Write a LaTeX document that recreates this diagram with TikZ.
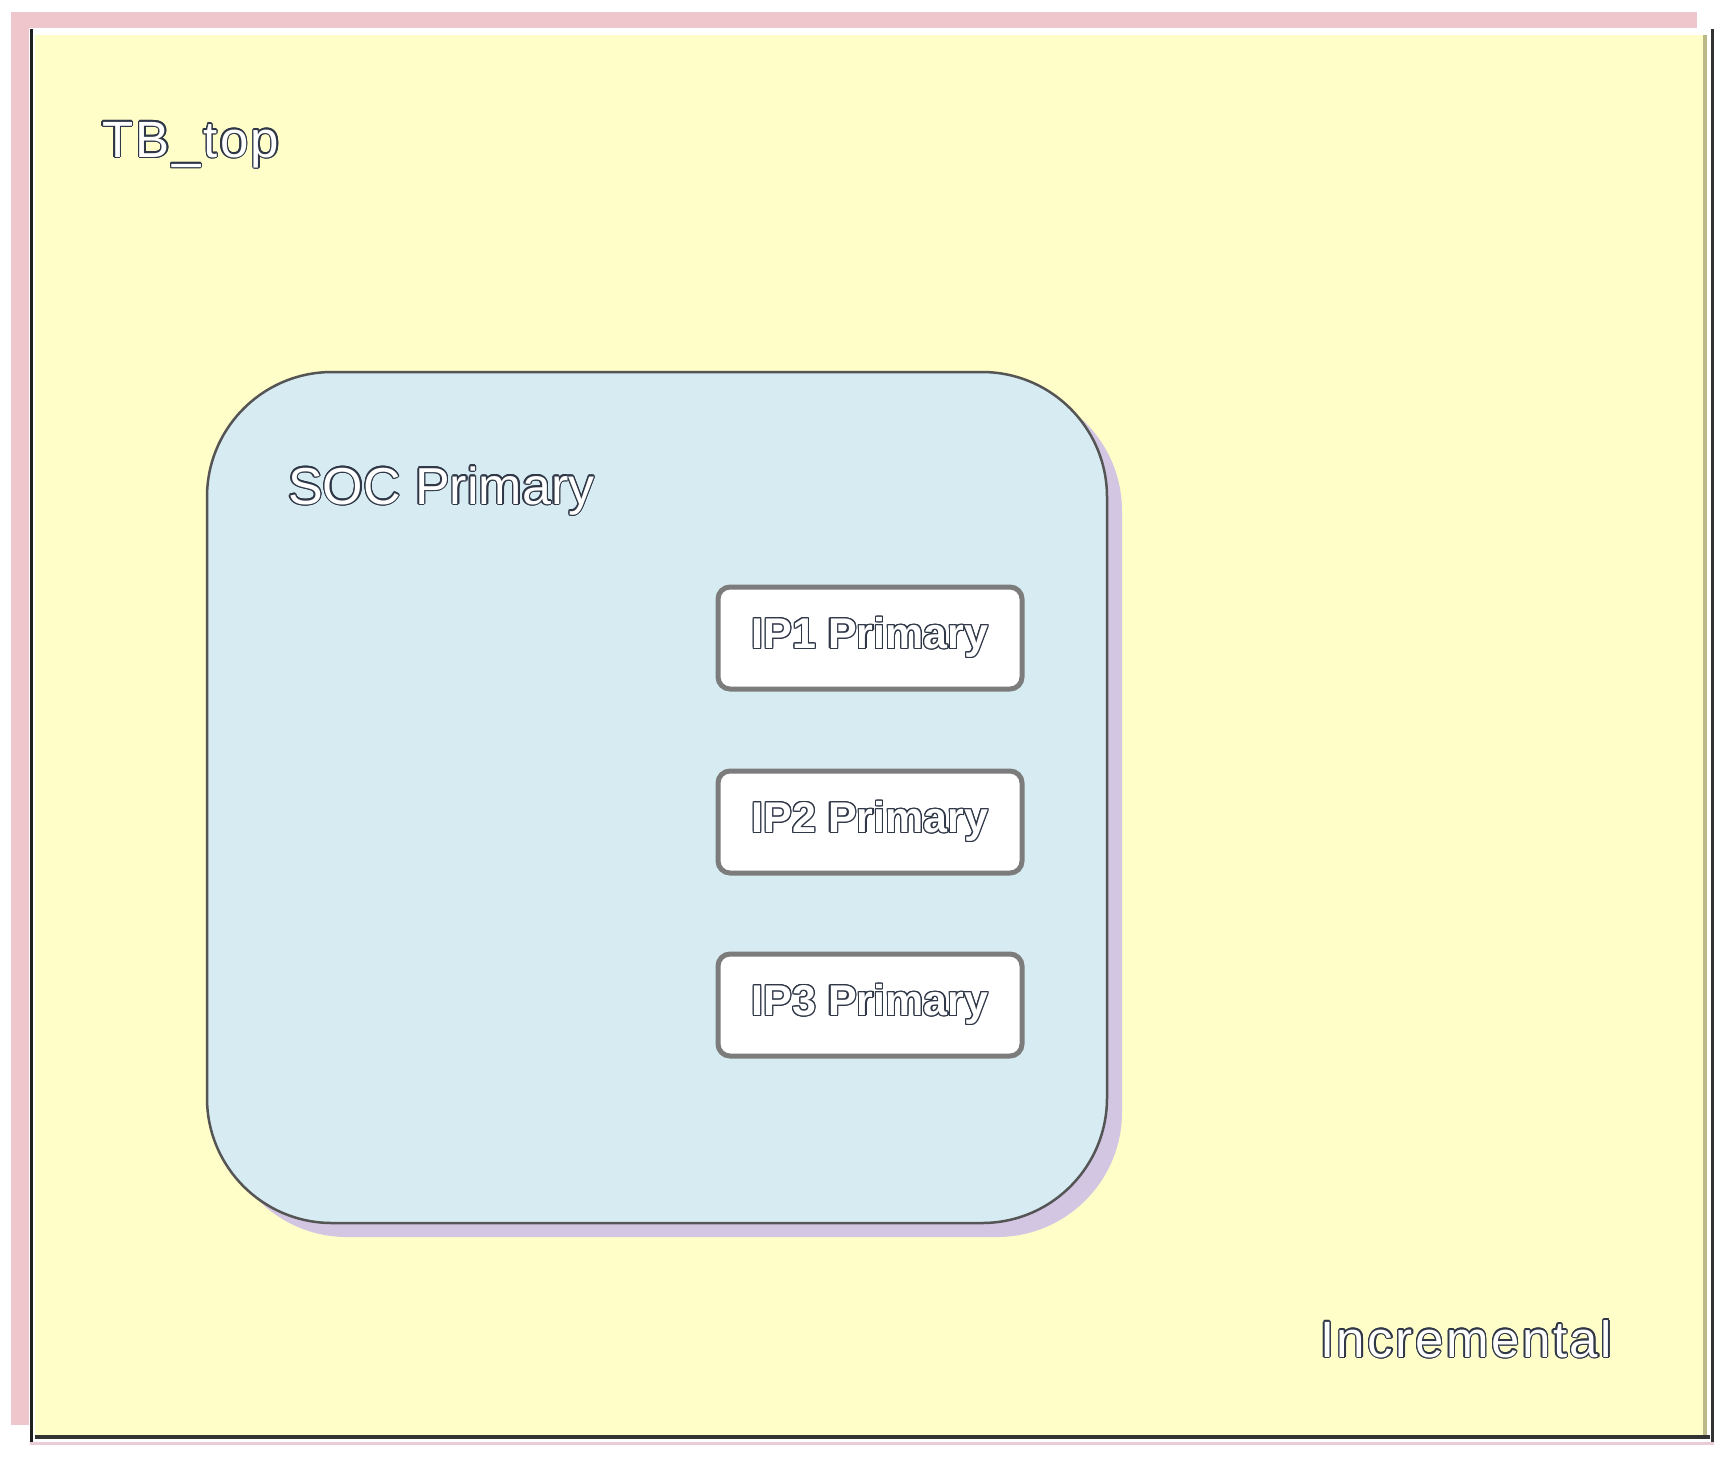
\documentclass[tikz,border=0pt]{standalone}
\usepackage{fontspec}
\setmainfont{Liberation Sans}
\newfontfamily\spacedfont[LetterSpace=5]{Liberation Sans}
\usepackage[copies]{contour}
\contourlength{1.3pt}
\usetikzlibrary{shadows}
\definecolor{pinkstrip}{HTML}{EEC6CC}
\definecolor{paper}{HTML}{FFFDC8}
\definecolor{socfill}{HTML}{D6ECF2}
\definecolor{socshadow}{HTML}{D2C6E2}
\definecolor{edgegray}{HTML}{555555}
\definecolor{ipedge}{HTML}{7C7C7C}
\definecolor{txtedge}{HTML}{303848}
\newcommand{\outl}[1]{\contour{txtedge}{\textcolor{white}{#1}}}
\tikzset{
  socbox/.style={draw=edgegray, line width=2.5pt, fill=socfill, rounded corners=125pt,
    minimum width=900pt, minimum height=851pt, inner sep=0pt,
    drop shadow={shadow xshift=15pt, shadow yshift=-14pt, fill=socshadow, opacity=1}},
  ipbox/.style={draw=ipedge, line width=5pt, fill=white, rounded corners=12pt,
    minimum width=304pt, minimum height=102pt, inner sep=0pt,
    font=\fontsize{43}{43}\selectfont\bfseries},
  label/.style={anchor=base west, inner sep=0pt}
}
\begin{document}
\begin{tikzpicture}[x=1pt,y=-1pt]
\useasboundingbox (0,0) rectangle (1726,1457);
\fill[white] (0,0) rectangle (1726,1457);
% pink shadow strips
\fill[pinkstrip] (11,12) rectangle (1697,28);
\fill[pinkstrip] (11,12) rectangle (29,1425);
% outer lines
\fill[black!88] (30,29) rectangle (33,1443);
\fill[black!80] (1711,29) rectangle (1714,1443);
\fill[black!22!purple!20] (30,1442) rectangle (1714,1445);
% yellow page
\fill[paper] (35,35) rectangle (1703,1435);
\fill[olive!45!gray!60] (1703,35) rectangle (1707,1435);
\fill[black!80] (35,1435) rectangle (1710,1439);
% labels
\node[label, font=\fontsize{51}{51}\selectfont\spacedfont] (tb) at (102,157) {\outl{TB\_top}};
\node[label, font=\fontsize{51}{51}\selectfont\spacedfont] (inc) at (1320,1357) {\outl{Incremental}};
% SOC box
\node[socbox] (soc) at (657,797.5) {};
\node[label, font=\fontsize{52}{52}\selectfont] (soclbl) at (288,504) {\outl{SOC Primary}};
% IP boxes
\node[ipbox] (ip1) at (870,638) {\outl{IP1 Primary}};
\node[ipbox] (ip2) at (870,822) {\outl{IP2 Primary}};
\node[ipbox] (ip3) at (870,1005) {\outl{IP3 Primary}};
\end{tikzpicture}
\end{document}
